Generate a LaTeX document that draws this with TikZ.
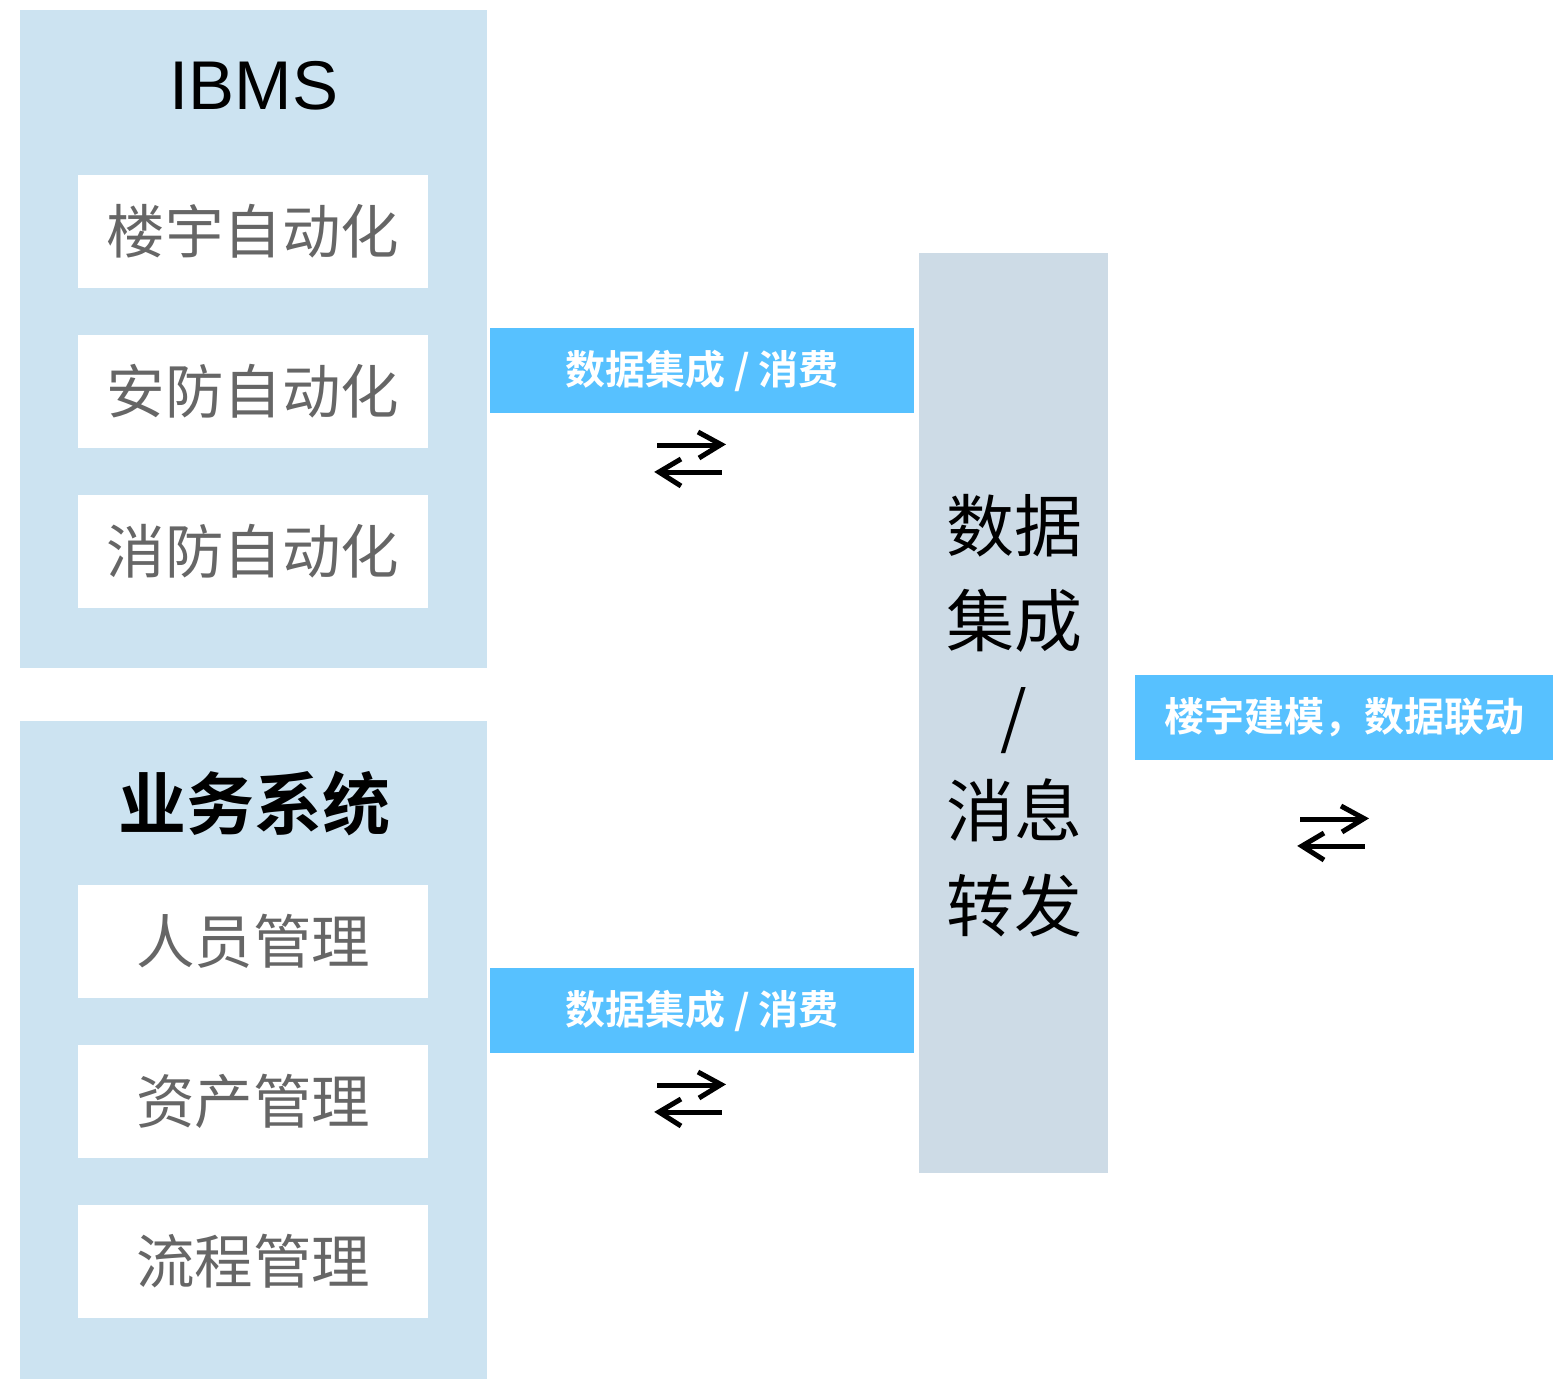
\documentclass[tikz,border=0pt]{standalone}
\usepackage{fontspec}
\setmainfont{Liberation Sans}
\newfontfamily\cjk{Noto Sans CJK SC}[BoldFont={Noto Sans CJK SC Bold}]
\newfontfamily\cjkm{Noto Sans CJK SC Medium}
\definecolor{panel}{HTML}{CCE3F1}
\definecolor{midcol}{HTML}{CDDBE6}
\definecolor{bar}{HTML}{57C1FF}
\definecolor{itemtxt}{HTML}{666666}
\begin{document}
\begin{tikzpicture}[x=1pt,y=-1pt,
  itembox/.style={fill=white,draw=none,minimum width=350pt,minimum height=113pt,inner sep=0pt,
    font=\cjk\fontsize{58.5}{64}\selectfont,text=itemtxt},
  barbox/.style={fill=bar,draw=none,inner sep=0pt,font=\cjk\bfseries\fontsize{40}{46}\selectfont,text=white},
  swaparrow/.style={line width=5pt},
]
\useasboundingbox (0,0) rectangle (1553,1379);
% panels
\fill[panel] (20,10) rectangle (487,668);
\fill[panel] (20,721) rectangle (487,1379);
\fill[midcol] (919,253) rectangle (1108,1173);
% titles
\node[font=\fontsize{69}{74}\selectfont] (ibms) at (254,86) {IBMS};
\node[font=\cjk\bfseries\fontsize{68}{74}\selectfont] (biz) at (254,804) {业务系统};
% items
\node[itembox] (i1) at (253,231.5) {楼宇自动化};
\node[itembox] (i2) at (253,391.5) {安防自动化};
\node[itembox] (i3) at (253,551.5) {消防自动化};
\node[itembox] (b1) at (253,941.5) {人员管理};
\node[itembox] (b2) at (253,1101.5) {资产管理};
\node[itembox] (b3) at (253,1261.5) {流程管理};
% bars
\node[barbox,minimum width=424pt,minimum height=85pt] (bar1) at (702,370.5) {数据集成 / 消费};
\node[barbox,minimum width=424pt,minimum height=85pt] (bar2) at (702,1010.5) {数据集成 / 消费};
\node[barbox,minimum width=418pt,minimum height=85pt] (bar3) at (1344,717.5) {楼宇建模，数据联动};
% middle column text
\node[font=\cjk\fontsize{68}{95}\selectfont,align=center] (mid) at (1014,716) {数据\\集成\\/\\消息\\转发};
% swap arrows
\foreach \n/\cx/\cy in {a1/690/459, a2/690/1099, a3/1333/833}{
  \coordinate (\n) at (\cx,\cy);
  \draw[swaparrow] ([shift={(-33,-14)}]\n) -- ([shift={(30,-14)}]\n);
  \draw[swaparrow,line join=miter] ([shift={(8,-27)}]\n) -- ([shift={(31,-14.5)}]\n) -- ([shift={(9,-1)}]\n);
  \draw[swaparrow] ([shift={(-30,13)}]\n) -- ([shift={(32,13)}]\n);
  \draw[swaparrow,line join=miter] ([shift={(-9,0)}]\n) -- ([shift={(-31,13)}]\n) -- ([shift={(-9,27)}]\n);
}
\end{tikzpicture}
\end{document}
